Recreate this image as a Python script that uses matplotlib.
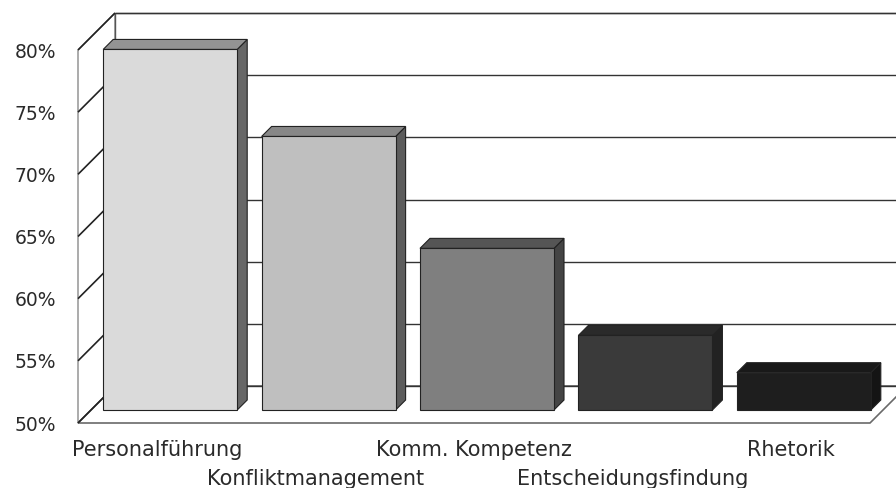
import matplotlib
matplotlib.use("Agg")
import matplotlib.pyplot as plt
from matplotlib.patches import Polygon

# Data
categories = ["Personalführung", "Konfliktmanagement", "Komm. Kompetenz",
              "Entscheidungsfindung", "Rhetorik"]
values = [79, 72, 63, 56, 53]
y_ticks = [50, 55, 60, 65, 70, 75, 80]
y_tick_labels = [f"{t}%" for t in y_ticks]

front_colors = ["#dadada", "#bfbfbf", "#7f7f7f", "#3a3a3a", "#1e1e1e"]
top_colors = ["#939393", "#878787", "#555555", "#2a2a2a", "#191919"]
side_colors = ["#676767", "#5c5c5c", "#444444", "#222222", "#141414"]

# Styling
DEPTH_PX = 37          # oblique depth of the plot box, in pixels
BAR_FRONT = 13 / 37    # bar front plane, fraction of depth
BAR_BACK = 23 / 37     # bar back plane, fraction of depth
BAR_WIDTH = 0.846
EDGE = "#222222"
TEXT = "#2a2a2a"
FONT = ["DejaVu Sans"]

fig = plt.figure(figsize=(8.96, 4.88), dpi=100)
ax = fig.add_axes([78 / 896, 65 / 488, 792 / 896, 373 / 488])
n = len(categories)
ymin, ymax = y_ticks[0], y_ticks[-1]
ax.set_xlim(0, n)
ax.set_ylim(ymin, ymax)
for s in ax.spines.values():
    s.set_visible(False)
ax.set_xticks([])
ax.set_yticks(y_ticks, y_tick_labels)
ax.tick_params(axis="y", length=0, pad=15.5, labelsize=13.5, labelcolor=TEXT)
for lab in ax.get_yticklabels():
    lab.set_family(FONT)

# depth (in data units) derived from the axes scale
fig.canvas.draw()
bbox = ax.get_window_extent()
DX = DEPTH_PX * n / bbox.width
DY = DEPTH_PX * (ymax - ymin) / bbox.height


def proj(x, y, z):
    """Oblique projection of (x, value, depth fraction) into data coords."""
    return (x + z * DX, y + z * DY)


def poly(pts, fc, ec=EDGE, lw=0.8, z=1):
    p = Polygon([proj(*q) for q in pts], closed=True, facecolor=fc,
                edgecolor=ec, linewidth=lw, zorder=z, clip_on=False,
                joinstyle="miter")
    ax.add_patch(p)


def line(pts, color=EDGE, lw=1.0, z=2):
    xs, ys = zip(*[proj(*q) for q in pts])
    ax.plot(xs, ys, color=color, lw=lw, zorder=z, clip_on=False,
            solid_capstyle="butt")


# walls and floor
poly([(0, ymin, 0), (0, ymax, 0), (0, ymax, 1), (0, ymin, 1)], "white",
     ec="#8a8a8a", lw=1.0, z=1)
poly([(0, ymin, 1), (0, ymax, 1), (n, ymax, 1), (n, ymin, 1)], "white",
     ec="#555555", lw=1.0, z=1)
poly([(0, ymin, 0), (n, ymin, 0), (n, ymin, 1), (0, ymin, 1)], "white",
     ec="#6a6a6a", lw=1.2, z=1)

# gridlines on the back wall and the side wall
for t in y_ticks:
    line([(0, t, 1), (n, t, 1)], color="#333333", lw=1.0, z=2)
    line([(0, t, 0), (0, t, 1)], color="#222222", lw=1.2, z=2)

# 3D bars
for i, v in enumerate(values):
    c = i + 0.5
    l, r = c - BAR_WIDTH / 2, c + BAR_WIDTH / 2
    zf, zb = BAR_FRONT, BAR_BACK
    poly([(r, ymin, zf), (r, v, zf), (r, v, zb), (r, ymin, zb)],
         side_colors[i], z=3)
    poly([(l, v, zf), (r, v, zf), (r, v, zb), (l, v, zb)],
         top_colors[i], z=3)
    poly([(l, ymin, zf), (r, ymin, zf), (r, v, zf), (l, v, zf)],
         front_colors[i], z=4)

# staggered category labels
for i, name in enumerate(categories):
    off = -33 if i % 2 == 0 else -62
    ax.annotate(name, xy=(i + 0.5, ymin), xycoords="data",
                xytext=(0, off * 0.72), textcoords="offset points",
                ha="center", va="baseline", fontsize=15, color=TEXT,
                family=FONT, annotation_clip=False)

fig.savefig("out.png", dpi=100, facecolor="white")
